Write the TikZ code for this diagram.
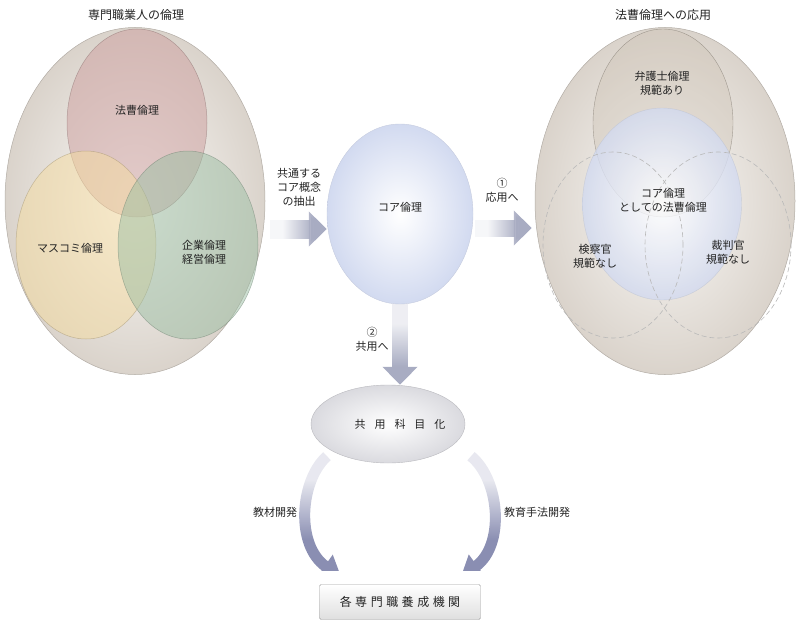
\documentclass[tikz,border=0pt]{standalone}
\usepackage{fontspec}
\setmainfont{Noto Sans CJK JP}
\usetikzlibrary{shapes.geometric,arrows.meta,fadings}

\definecolor{txtcol}{RGB}{35,35,35}
\definecolor{outerrim}{RGB}{218,211,203}
\definecolor{outermid}{RGB}{250,249,247}
\definecolor{outerline}{RGB}{178,172,165}
\definecolor{hoso}{RGB}{205,158,158}
\definecolor{masukomi}{RGB}{245,220,160}
\definecolor{kigyo}{RGB}{155,190,163}
\definecolor{bengo}{RGB}{200,188,172}
\definecolor{corerim}{RGB}{210,218,240}
\definecolor{sharerim}{RGB}{218,218,223}
\definecolor{arrowcol}{RGB}{168,172,194}
\definecolor{bendcol}{RGB}{138,142,178}

\tikzfading[name=fadeeast, left color=transparent!90, right color=transparent!0]
\tikzfading[name=fadesouth, top color=transparent!80, bottom color=transparent!0]

\tikzset{
    txt/.style={text=txtcol, font=\fontsize{11}{14}\selectfont, align=center},
    title/.style={text=txtcol, font=\fontsize{12}{14}\selectfont},
    outer/.style={ellipse, inner sep=0pt, draw=outerline, line width=0.5pt,
        inner color=outermid, outer color=outerrim,
        minimum width=260pt, minimum height=347pt},
    petal/.style={ellipse, inner sep=0pt, draw=#1!65!black, draw opacity=0.5,
        fill=#1, fill opacity=0.5, line width=0.5pt,
        minimum width=140pt, minimum height=188pt},
    dashpetal/.style={ellipse, inner sep=0pt, draw=gray!55, line width=0.6pt,
        dash pattern=on 5pt off 3pt, minimum width=#1, minimum height=186pt},
    fatarrow/.style={draw=arrowcol, line width=#1, -{Triangle[width=34pt,length=18pt]}},
    bendarrow/.style={draw=bendcol, line width=11pt, -{Triangle[width=26pt,length=20pt]}}
}

\begin{document}
\begin{tikzpicture}[x=1pt,y=-1pt]
\useasboundingbox (0,0) rectangle (800,626);

\node[title] (ltitle) at (136,15) {専門職業人の倫理};
\node[outer] (lvenn) at (135,201) {};
\node[petal=hoso] (hoso) at (137,123) {};
\node[petal=masukomi] (media) at (86,245) {};
\node[petal=kigyo] (biz) at (188,245) {};
\node[txt] (hosotxt) at (137,110) {法曹倫理};
\node[txt] (mediatxt) at (70,248) {マスコミ倫理};
\node[txt] (biztxt) at (204,252) {企業倫理\\経営倫理};

\node[ellipse, inner sep=0pt, minimum width=146pt, minimum height=180pt,
    draw=corerim!85!gray, inner color=white, outer color=corerim] (core) at (400,214) {};
\node[txt] (coretxt) at (400,207) {コア倫理};

\node[title] (rtitle) at (663,15) {法曹倫理への応用};
\node[outer] (rvenn) at (665,201) {};
\node[ellipse, inner sep=0pt, minimum width=140pt, minimum height=188pt,
    draw=bengo!60!black, draw opacity=0.6, fill=bengo, fill opacity=0.3] (bengo) at (663,123) {};
\node[ellipse, inner sep=0pt, minimum width=159pt, minimum height=192pt,
    draw=corerim!70!gray, draw opacity=0.6, inner color=white, outer color=corerim,
    fill opacity=0.8] (rcore) at (662,204) {};
\node[dashpetal=140pt] (kensatsu) at (613,245) {};
\node[dashpetal=146pt] (saiban) at (718,245) {};
\node[txt] (bengotxt) at (662,83) {弁護士倫理\\規範あり};
\node[txt] (rcoretxt) at (663,200) {コア倫理\\としての法曹倫理};
\node[txt] (kensatsutxt) at (595,256) {検察官\\規範なし};
\node[txt] (saibantxt) at (728,252) {裁判官\\規範なし};

\node[ellipse, inner sep=0pt, minimum width=154pt, minimum height=78pt,
    draw=sharerim!85!black, inner color=white, outer color=sharerim] (share) at (388,424) {};
\node[txt] (sharetxt) at (400,424) {共\hspace{9pt}用\hspace{9pt}科\hspace{9pt}目\hspace{9pt}化};

\node[draw=gray!75, rounded corners=1.5pt, top color=white, bottom color=gray!25,
    minimum width=161pt, minimum height=35pt, text=txtcol,
    font=\fontsize{12}{14}\selectfont] (inst) at (400,602)
    {各\hspace{3.5pt}専\hspace{3.5pt}門\hspace{3.5pt}職\hspace{3.5pt}養\hspace{3.5pt}成\hspace{3.5pt}機\hspace{3.5pt}関};

\draw[fatarrow=19pt, path fading=fadeeast, fit fading=false,
    fading transform={shift={(298,229)},xscale=0.62}]
    ([xshift=5pt,yshift=-28pt]lvenn.east) -- ([yshift=-15pt]core.west);
\draw[fatarrow=17pt, path fading=fadeeast, fit fading=false,
    fading transform={shift={(503,228)},xscale=0.62}]
    ([xshift=2pt,yshift=-14pt]core.east) -- ([xshift=-3pt,yshift=-27pt]rvenn.west);
\draw[fatarrow=16pt, path fading=fadesouth, fit fading=false,
    fading transform={shift={(400,345)},yscale=0.85}]
    (core.south) -- ([xshift=12pt]share.north);

\draw[bendarrow, path fading=fadesouth, fit fading=false,
    fading transform={shift={(312,510)},yscale=1.2}]
    ([xshift=-61pt,yshift=7pt]share.south) .. controls (300,480) and (295,545) ..
    ([xshift=22pt,yshift=7pt]inst.north west);
\draw[bendarrow, path fading=fadesouth, fit fading=false,
    fading transform={shift={(486,510)},yscale=1.2}]
    ([xshift=83pt,yshift=7pt]share.south) .. controls (500,480) and (505,545) ..
    ([xshift=-20pt,yshift=7pt]inst.north east);

\node[txt] (extract) at (299,187) {共通する\\コア概念\\の抽出};
\node[txt] (apply) at (502,190) {①\\応用へ};
\node[txt] (shareto) at (372,339) {②\\共用へ};
\node[txt] (material) at (275,512) {教材開発};
\node[txt] (method) at (537,512) {教育手法開発};
\end{tikzpicture}
\end{document}
